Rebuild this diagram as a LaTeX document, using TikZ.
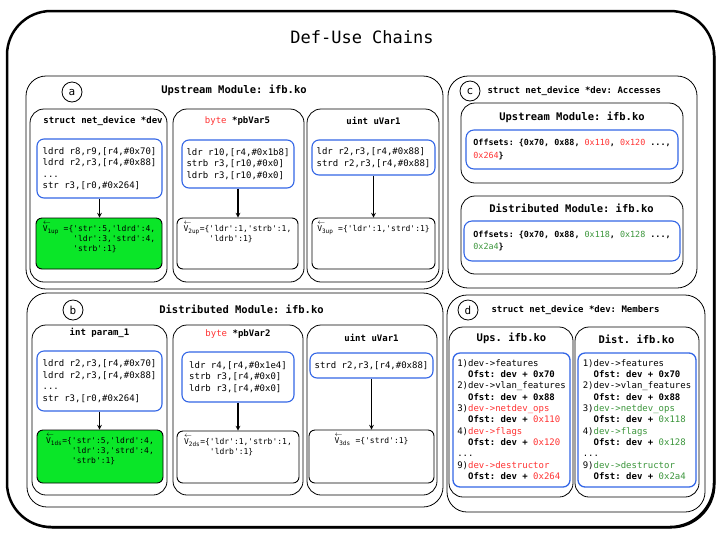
\documentclass[tikz,border=0pt]{standalone}
\usepackage{fontspec}
\setmonofont{DejaVu Sans Mono}
\usetikzlibrary{shapes.geometric, arrows, shadows}
\definecolor{codeblue}{RGB}{51,102,230}
\definecolor{usegreen}{RGB}{10,230,40}
\definecolor{offred}{RGB}{255,51,51}
\definecolor{offgreen}{RGB}{60,150,60}
\newcommand{\upsoff}[1]{{\mdseries\color{offred}#1}}
\newcommand{\dstoff}[1]{{\mdseries\color{offgreen}#1}}
\newcommand{\vecv}[1]{\makebox[0pt][l]{\raisebox{7pt}{\fontsize{7.5}{7.5}\selectfont$\leftarrow$}}V\textsubscript{#1}}
\tikzstyle{outerframe} = [rectangle, rounded corners=44pt, draw=black, line width=2.5pt, fill=white, drop shadow={shadow xshift=1.5pt, shadow yshift=-1.5pt, opacity=1, fill=black}]
\tikzstyle{maintitle} = [font=\ttfamily\fontsize{17}{20}\selectfont]
\tikzstyle{panel} = [rectangle, rounded corners=20pt, draw=black, line width=0.8pt, inner sep=0pt]
\tikzstyle{subpanel} = [rectangle, rounded corners=14pt, draw=black, line width=0.8pt, inner sep=0pt]
\tikzstyle{panelname} = [circle, draw=black, line width=0.8pt, minimum size=20pt, inner sep=0pt, font=\ttfamily\fontsize{11}{11}\selectfont]
\tikzstyle{paneltitle} = [font=\ttfamily\bfseries\fontsize{10.5}{12}\selectfont]
\tikzstyle{subtitle} = [font=\ttfamily\bfseries\fontsize{9}{11}\selectfont]
\tikzstyle{codebox} = [rectangle, rounded corners=7pt, draw=codeblue, line width=1.1pt, inner sep=0pt, align=left, font=\ttfamily\fontsize{9}{11.5}\selectfont]
\tikzstyle{chainbox} = [rectangle, rounded corners=6pt, draw=black, line width=0.9pt, inner sep=0pt]
\tikzstyle{chaintext} = [anchor=north, inner sep=0pt, font=\ttfamily\fontsize{8}{10}\selectfont]
\tikzstyle{offbox} = [rectangle, rounded corners=8pt, draw=codeblue, line width=1.1pt, inner sep=0pt, align=left, font=\ttfamily\bfseries\fontsize{8.4}{12.5}\selectfont]
\tikzstyle{memberbox} = [rectangle, rounded corners=7pt, draw=codeblue, line width=1.3pt, inner sep=0pt, align=left, font=\ttfamily\fontsize{9}{11.3}\selectfont]
\tikzstyle{arrow} = [line width=1.1pt,->,>=stealth]

\begin{document}
\begin{tikzpicture}[x=1pt, y=-1pt]
	\useasboundingbox (0,0) rectangle (719,539);
	\node (frame) [outerframe, minimum width=707pt, minimum height=516pt] at (360.5,269) {};
	\node (title) [maintitle] at (362,37) {Def-Use Chains};

	% (a) upstream module
	\node (upa) [panel, minimum width=417pt, minimum height=213pt] at (234.5,182.5) {};
	\node (upaname) [panelname] at (72,92) {a};
	\node (upatitle) [paneltitle] at (234,90) {Upstream Module: ifb.ko};

	\node (upv1) [subpanel, minimum width=137pt, minimum height=173pt] at (98.5,195.5) {};
	\node (upv1title) [subtitle] at (103,121) {struct net\_device *dev};
	\node (upv1code) [codebox, minimum width=125pt, minimum height=59pt] at (99.5,168.5) {ldrd r8,r9,[r4,\#0x70]\\ldrd r2,r3,[r4,\#0x88]\\...\\str r3,[r0,\#0x264]};
	\node (upv1chain) [chainbox, fill=usegreen, minimum width=126pt, minimum height=51pt] at (99,243.5) {};
	\node (upv1text) [chaintext] at ([yshift=-4pt]upv1chain.north) {\begin{tabular}{@{}l@{ }l@{}}\vecv{1up} & =\{'str':5,'ldrd':4,\\ & \phantom{=\{}'ldr':3,'strd':4,\\ & \phantom{=\{}'strb':1\}\end{tabular}};
		\draw [arrow] (upv1code.south) -- (upv1code.south |- upv1chain.north);

	\node (upv2) [subpanel, minimum width=131pt, minimum height=173pt] at (238.5,195.5) {};
	\node (upv2title) [subtitle] at (237.5,121) {\upsoff{byte} *pbVar5};
	\node (upv2code) [codebox, minimum width=112pt, minimum height=48pt] at (238,164) {ldr r10,[r4,\#0x1b8]\\strb r3,[r10,\#0x0]\\ldrb r3,[r10,\#0x0]};
	\node (upv2chain) [chainbox, minimum width=121pt, minimum height=51pt] at (237.5,243.5) {};
	\node (upv2text) [chaintext] at ([yshift=-4pt]upv2chain.north) {\begin{tabular}{@{}l@{}l@{}}\vecv{2up} & =\{'ldr':1,'strb':1,\\ & \phantom{=\{}'ldrb':1\}\end{tabular}};
		\draw [arrow] (upv2code.south) -- (upv2code.south |- upv2chain.north);

	\node (upv3) [subpanel, minimum width=132pt, minimum height=173pt] at (373,195.5) {};
	\node (upv3title) [subtitle] at (373.5,121) {uint uVar1};
	\node (upv3code) [codebox, minimum width=123pt, minimum height=35pt] at (373.5,157.5) {ldr r2,r3,[r4,\#0x88]\\strd r2,r3,[r4,\#0x88]};
	\node (upv3chain) [chainbox, minimum width=123pt, minimum height=51pt] at (373.5,243.5) {};
	\node (upv3text) [chaintext] at ([yshift=-4pt]upv3chain.north) {\begin{tabular}{@{}l@{ }l@{}}\vecv{3up} & =\{'ldr':1,'strd':1\}\end{tabular}};
		\draw [arrow] (upv3code.south) -- (upv3code.south |- upv3chain.north);

	% (b) distributed module
	\node (dsb) [panel, minimum width=416pt, minimum height=214pt] at (235,400) {};
	\node (dsbname) [panelname] at (73,310) {b};
	\node (dsbtitle) [paneltitle] at (241.5,309) {Distributed Module: ifb.ko};

	\node (dsv1) [subpanel, minimum width=135pt, minimum height=170pt] at (99.5,410) {};
	\node (dsv1title) [subtitle] at (99.5,333) {int param\_1};
	\node (dsv1code) [codebox, minimum width=125pt, minimum height=60pt] at (99.5,381) {ldrd r2,r3,[r4,\#0x70]\\ldrd r2,r3,[r4,\#0x88]\\...\\str r3,[r0,\#0x264]};
	\node (dsv1chain) [chainbox, fill=usegreen, minimum width=126pt, minimum height=53pt] at (100,456.5) {};
	\node (dsv1text) [chaintext] at ([yshift=-4pt]dsv1chain.north) {\begin{tabular}{@{}l@{}l@{}}\vecv{1ds} & =\{'str':5,'ldrd':4,\\ & \phantom{=\{}'ldr':3,'strd':4,\\ & \phantom{=\{}'strb':1\}\end{tabular}};
		\draw [arrow] (dsv1code.south) -- (dsv1code.south |- dsv1chain.north);

	\node (dsv2) [subpanel, minimum width=130pt, minimum height=170pt] at (238,410) {};
	\node (dsv2title) [subtitle] at (238,334) {\upsoff{byte} *pbVar2};
	\node (dsv2code) [codebox, minimum width=112pt, minimum height=50pt] at (238,377) {ldr r4,[r4,\#0x1e4]\\strb r3,[r4,\#0x0]\\ldrb r3,[r4,\#0x0]};
	\node (dsv2chain) [chainbox, minimum width=122pt, minimum height=52pt] at (238,457) {};
	\node (dsv2text) [chaintext] at ([yshift=-4pt]dsv2chain.north) {\begin{tabular}{@{}l@{}l@{}}\vecv{2ds} & =\{'ldr':1,'strb':1,\\ & \phantom{=\{}'ldrb':1\}\end{tabular}};
		\draw [arrow] (dsv2code.south) -- (dsv2code.south |- dsv2chain.north);

	\node (dsv3) [subpanel, minimum width=130pt, minimum height=170pt] at (372,410) {};
	\node (dsv3title) [subtitle] at (371.5,338) {uint uVar1};
	\node (dsv3code) [codebox, minimum width=123pt, minimum height=25pt] at (371.5,365.5) {strd r2,r3,[r4,\#0x88]};
	\node (dsv3chain) [chainbox, minimum width=125pt, minimum height=53pt] at (371.5,456.5) {};
	\node (dsv3text) [chaintext] at ([yshift=-4pt]dsv3chain.north) {\begin{tabular}{@{}l@{ }l@{}}\vecv{3ds} & =\{'strd':1\}\end{tabular}};
		\draw [arrow] (dsv3code.south) -- (dsv3code.south |- dsv3chain.north);

	% (c) accesses
	\node (acc) [panel, minimum width=249pt, minimum height=212pt] at (572.5,182) {};
	\node (accname) [panelname] at (470,91) {c};
	\node (acctitle) [subtitle, anchor=west] at (484,91) {struct net\_device *dev: Accesses};

	\node (accup) [subpanel, minimum width=222pt, minimum height=80pt] at (572,143) {};
	\node (accuptitle) [paneltitle] at (572,117) {Upstream Module: ifb.ko};
	\node (accupoff) [offbox, minimum width=212pt, minimum height=39pt] at (572,149.5) {Offsets: \{0x70, 0x88, \upsoff{0x110}, \upsoff{0x120} ...,\\\upsoff{0x264}\}};

	\node (accds) [subpanel, minimum width=222pt, minimum height=78pt] at (572,235) {};
	\node (accdstitle) [paneltitle] at (571.5,208) {Distributed Module: ifb.ko};
	\node (accdsoff) [offbox, minimum width=216pt, minimum height=40pt] at (572,241) {Offsets: \{0x70, 0x88, \dstoff{0x118}, \dstoff{0x128} ...,\\\dstoff{0x2a4}\}};

	% (d) members
	\node (mem) [panel, minimum width=258pt, minimum height=217pt] at (576,403.5) {};
	\node (memname) [panelname] at (468,310) {d};
	\node (memtitle) [subtitle, anchor=west] at (488,310) {struct net\_device *dev: Members};

	\node (memup) [subpanel, minimum width=124pt, minimum height=170pt] at (511,412) {};
	\node (memuptitle) [paneltitle] at (511.5,338) {Ups. ifb.ko};
	\node (memuplist) [memberbox, minimum width=117pt, minimum height=134pt] at (511.5,420) {1)dev->features\\\phantom{1)}\textbf{Ofst: dev + 0x70}\\2)dev->vlan\_features\\\phantom{1)}\textbf{Ofst: dev + 0x88}\\3)\upsoff{dev->netdev\_ops}\\\phantom{1)}\textbf{Ofst: dev + }\upsoff{0x110}\\4)\upsoff{dev->flags}\\\phantom{1)}\textbf{Ofst: dev + }\upsoff{0x120}\\...\\9)\upsoff{dev->destructor}\\\phantom{1)}\textbf{Ofst: dev + }\upsoff{0x264}};

	\node (memds) [subpanel, minimum width=124pt, minimum height=170pt] at (637,412) {};
	\node (memdstitle) [paneltitle] at (636.5,339) {Dist. ifb.ko};
	\node (memdslist) [memberbox, minimum width=118pt, minimum height=134pt] at (637,420) {1)dev->features\\\phantom{1)}\textbf{Ofst: dev + 0x70}\\2)dev->vlan\_features\\\phantom{1)}\textbf{Ofst: dev + 0x88}\\3)\dstoff{dev->netdev\_ops}\\\phantom{1)}\textbf{Ofst: dev + }\dstoff{0x118}\\4)\dstoff{dev->flags}\\\phantom{1)}\textbf{Ofst: dev + }\dstoff{0x128}\\...\\9)\dstoff{dev->destructor}\\\phantom{1)}\textbf{Ofst: dev + }\dstoff{0x2a4}};

\end{tikzpicture}
\end{document}
